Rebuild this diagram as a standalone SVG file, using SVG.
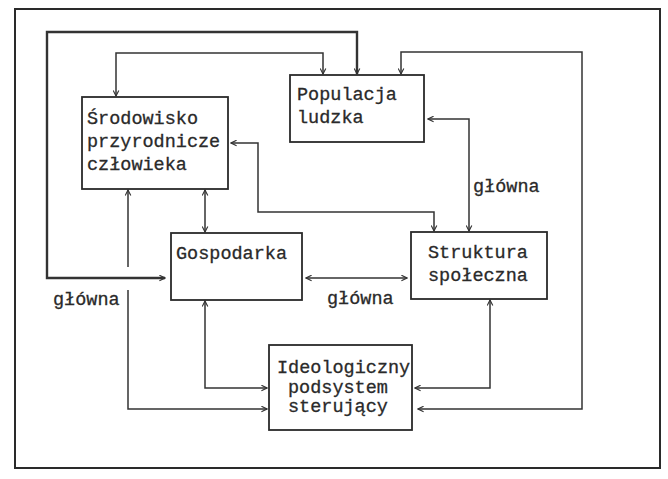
<svg xmlns="http://www.w3.org/2000/svg" width="668" height="479" viewBox="0 0 668 479">
<defs>
<style>
.frame{fill:none;stroke:#2a2a2a;stroke-width:2}
.box{fill:#fff;stroke:#2a2a2a;stroke-width:1.8}
.c{fill:none;stroke:#333;stroke-width:1.5}
.thick{stroke-width:2.4}
text{font-family:"Liberation Mono","DejaVu Sans Mono",monospace;font-size:18.5px;fill:#2a2a2a;stroke:#2a2a2a;stroke-width:0.3}
</style>
<marker id="ah" viewBox="0 0 10 10" refX="9" refY="5" markerWidth="7" markerHeight="7" markerUnits="userSpaceOnUse" orient="auto-start-reverse">
<path d="M1,1 L9,5 L1,9" fill="none" stroke="#333" stroke-width="1.6"/>
</marker>
</defs>
<rect width="668" height="479" fill="#fff"/>
<rect class="frame" x="15" y="9" width="645" height="459"/>
<g id="connectors">
<path class="c thick" d="M165,278 H47 V32 H357 V74" marker-start="url(#ah)" marker-end="url(#ah)"/>
<path class="c" d="M116,96 V53 H323 V74" marker-start="url(#ah)" marker-end="url(#ah)"/>
<path class="c" d="M401,74 V52 H582 V409 H418" marker-start="url(#ah)" marker-end="url(#ah)"/>
<path class="c" d="M428,119 H469 V231" marker-start="url(#ah)" marker-end="url(#ah)"/>
<path class="c" d="M231,143 H258 V212 H434 V231" marker-start="url(#ah)" marker-end="url(#ah)"/>
<path class="c" d="M205,190 V232" marker-start="url(#ah)" marker-end="url(#ah)"/>
<path class="c" d="M128,190 V267" marker-start="url(#ah)"/>
<path class="c" d="M128,290 V409 H267" marker-end="url(#ah)"/>
<path class="c" d="M306,278 H407" marker-start="url(#ah)" marker-end="url(#ah)"/>
<path class="c" d="M205,301 V388 H267" marker-start="url(#ah)" marker-end="url(#ah)"/>
<path class="c" d="M490,300 V388 H415" marker-start="url(#ah)" marker-end="url(#ah)"/>
<text x="53" y="305">główna</text>
<text x="327" y="304">główna</text>
<text x="473" y="192">główna</text>
</g>
<g id="srodowisko">
<rect class="box" x="82" y="97" width="146" height="92"/>
<text x="87" y="124">Środowisko</text>
<text x="87" y="147">przyrodnicze</text>
<text x="87" y="170">człowieka</text>
</g>
<g id="populacja">
<rect class="box" x="290" y="75" width="134" height="67"/>
<text x="297" y="100">Populacja</text>
<text x="297" y="123">ludzka</text>
</g>
<g id="gospodarka">
<rect class="box" x="171" y="233" width="131" height="67"/>
<text x="176" y="259">Gospodarka</text>
</g>
<g id="struktura">
<rect class="box" x="411" y="232" width="136" height="67"/>
<text x="428" y="258">Struktura</text>
<text x="428" y="281">społeczna</text>
</g>
<g id="ideologiczny">
<rect class="box" x="269" y="345" width="143" height="85"/>
<text x="277" y="373">Ideologiczny</text>
<text x="288" y="393">podsystem</text>
<text x="288" y="412">sterujący</text>
</g>
</svg>
